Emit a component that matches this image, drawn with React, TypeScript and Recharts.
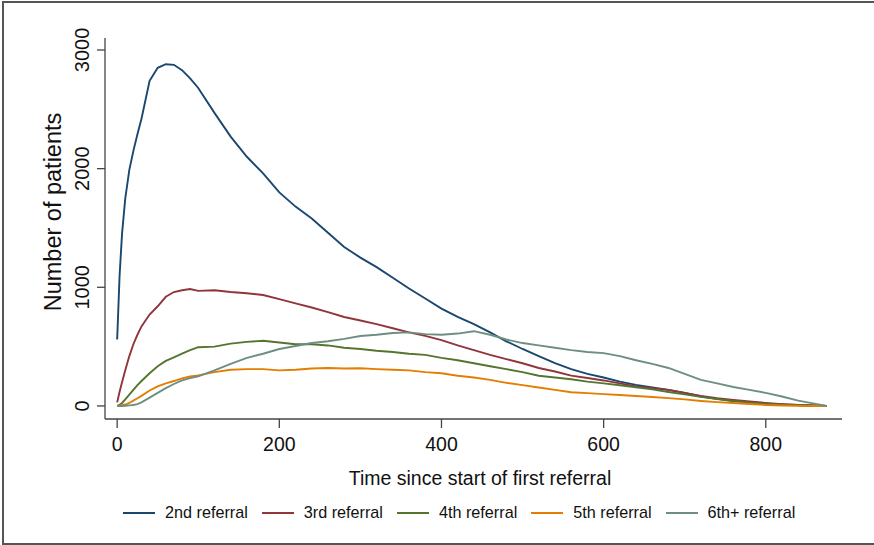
import React from "react";
import { LineChart, Line, XAxis, YAxis } from "recharts";

// days since first referral
const days = [
  0, 3, 6, 10, 15, 20, 25, 30, 40, 50, 60, 70, 80, 90, 100, 120, 140, 160, 180,
  200, 220, 240, 260, 280, 300, 320, 340, 360, 380, 400, 420, 440, 460, 480,
  500, 520, 540, 560, 580, 600, 620, 640, 660, 680, 700, 720, 740, 760, 780,
  800, 820, 840, 860, 875,
];

const second = [
  560, 1100, 1450, 1750, 1990, 2150, 2290, 2420, 2740, 2850, 2880, 2875, 2830,
  2760, 2680, 2470, 2270, 2100, 1960, 1800, 1680, 1580, 1460, 1340, 1250, 1170,
  1080, 990, 905, 820, 750, 690, 620, 545, 480, 420, 360, 310, 270, 240, 205,
  178, 155, 135, 110, 80, 60, 42, 30, 18, 12, 8, 4, 0,
];

const third = [
  30, 120, 200, 300, 420, 520, 600, 670, 770, 840, 920, 960, 975, 985, 970, 975,
  960, 950, 935, 900, 865, 830, 790, 750, 720, 690, 655, 620, 590, 555, 510,
  470, 430, 395, 360, 320, 290, 255, 235, 215, 190, 165, 150, 135, 110, 85, 65,
  50, 38, 25, 15, 8, 3, 0,
];

const fourth = [
  0, 10, 25, 55, 95, 135, 175, 210, 275, 335, 380, 410, 440, 470, 495, 500, 525,
  540, 550, 535, 520, 520, 510, 490, 480, 465, 455, 440, 430, 405, 385, 360,
  335, 310, 285, 255, 240, 225, 205, 190, 175, 158, 140, 118, 98, 76, 58, 42,
  30, 18, 10, 5, 2, 0,
];

const fifth = [
  0, 3, 8, 12, 25, 45, 65, 85, 130, 165, 190, 210, 232, 248, 258, 285, 305, 310,
  310, 300, 305, 315, 320, 315, 318, 310, 305, 300, 285, 275, 255, 240, 220,
  195, 175, 155, 135, 115, 108, 100, 92, 84, 76, 66, 55, 42, 32, 25, 16, 8, 4,
  2, 0, 0,
];

const sixthPlus = [
  0, 0, 0, 2, 5, 8, 15, 30, 70, 110, 150, 185, 215, 235, 250, 300, 355, 405,
  440, 480, 505, 530, 545, 565, 590, 600, 615, 620, 605, 600, 610, 630, 600,
  560, 530, 510, 490, 470, 455, 445, 420, 385, 355, 320, 270, 220, 190, 160,
  135, 110, 80, 45, 20, 0,
];

const xTicks = [0, 200, 400, 600, 800];
const yTicks = [0, 1000, 2000, 3000];

const series = [
  { key: "second", name: "2nd referral", color: "#1a476f", values: second },
  { key: "third", name: "3rd referral", color: "#90353b", values: third },
  { key: "fourth", name: "4th referral", color: "#55752f", values: fourth },
  { key: "fifth", name: "5th referral", color: "#e37e00", values: fifth },
  { key: "sixth", name: "6th+ referral", color: "#6e8e84", values: sixthPlus },
];

const data = days.map((t, i) => {
  const row: Record<string, number> = { t };
  series.forEach((s) => {
    row[s.key] = s.values[i];
  });
  return row;
});

const FONT = '"Liberation Sans", Arial, Helvetica, sans-serif';
const AXIS = "#444";

const YTick = (props: any) => {
  const { y, payload } = props;
  return (
    <text
      x={82}
      y={y}
      transform={`rotate(-90, 82, ${y})`}
      textAnchor="middle"
      dominantBaseline="central"
      fontSize={20}
      fontFamily={FONT}
      fill="#111"
    >
      {payload.value}
    </text>
  );
};

const XTick = (props: any) => {
  const { x, payload } = props;
  return (
    <text
      x={x}
      y={451}
      textAnchor="middle"
      fontSize={19.5}
      fontFamily={FONT}
      fill="#111"
    >
      {payload.value}
    </text>
  );
};

export default function App() {
  return (
    <div
      style={{
        position: "absolute",
        left: 0,
        top: 0,
        width: 874,
        height: 545,
        background: "#fff",
        fontFamily: FONT,
      }}
    >
      <div
        style={{
          position: "absolute",
          left: 2,
          top: 1,
          width: 872,
          height: 540,
          borderTop: "2px solid #555",
          borderLeft: "2px solid #555",
          borderBottom: "2px solid #555",
        }}
      />
      <LineChart
        width={874}
        height={545}
        data={data}
        margin={{ top: 38, right: 32, bottom: 96, left: 45 }}
        style={{ position: "absolute", left: 0, top: 0 }}
      >
        <XAxis
          dataKey="t"
          type="number"
          domain={[-15, 894]}
          allowDataOverflow
          ticks={xTicks}
          height={30}
          tickSize={9}
          axisLine={{ stroke: AXIS, strokeWidth: 1.3 }}
          tickLine={{ stroke: AXIS, strokeWidth: 1.3 }}
          tick={<XTick />}
        />
        <YAxis
          type="number"
          domain={[-110, 3101]}
          allowDataOverflow
          ticks={yTicks}
          width={60}
          tickSize={8}
          axisLine={{ stroke: AXIS, strokeWidth: 1.3 }}
          tickLine={{ stroke: AXIS, strokeWidth: 1.3 }}
          tick={<YTick />}
        />
        {series.map((s) => (
          <Line
            key={s.key}
            dataKey={s.key}
            name={s.name}
            type="linear"
            stroke={s.color}
            strokeWidth={1.9}
            dot={false}
            isAnimationActive={false}
          />
        ))}
        <text
          x={53}
          y={212}
          transform="rotate(-90, 53, 212)"
          textAnchor="middle"
          dominantBaseline="central"
          fontSize={23.5}
          fontFamily={FONT}
          fill="#111"
        >
          Number of patients
        </text>
        <text
          x={480}
          y={485}
          textAnchor="middle"
          fontSize={19.5}
          fontFamily={FONT}
          fill="#111"
        >
          Time since start of first referral
        </text>
      </LineChart>
      <div
        style={{
          position: "absolute",
          left: 123,
          top: 503,
          display: "flex",
          alignItems: "center",
          gap: 14,
          fontSize: 16.2,
          color: "#111",
          whiteSpace: "nowrap",
        }}
      >
        {series.map((s) => (
          <div
            key={s.key}
            style={{ display: "flex", alignItems: "center", gap: 10 }}
          >
            <div style={{ width: 32, height: 2, background: s.color }} />
            <span>{s.name}</span>
          </div>
        ))}
      </div>
    </div>
  );
}
